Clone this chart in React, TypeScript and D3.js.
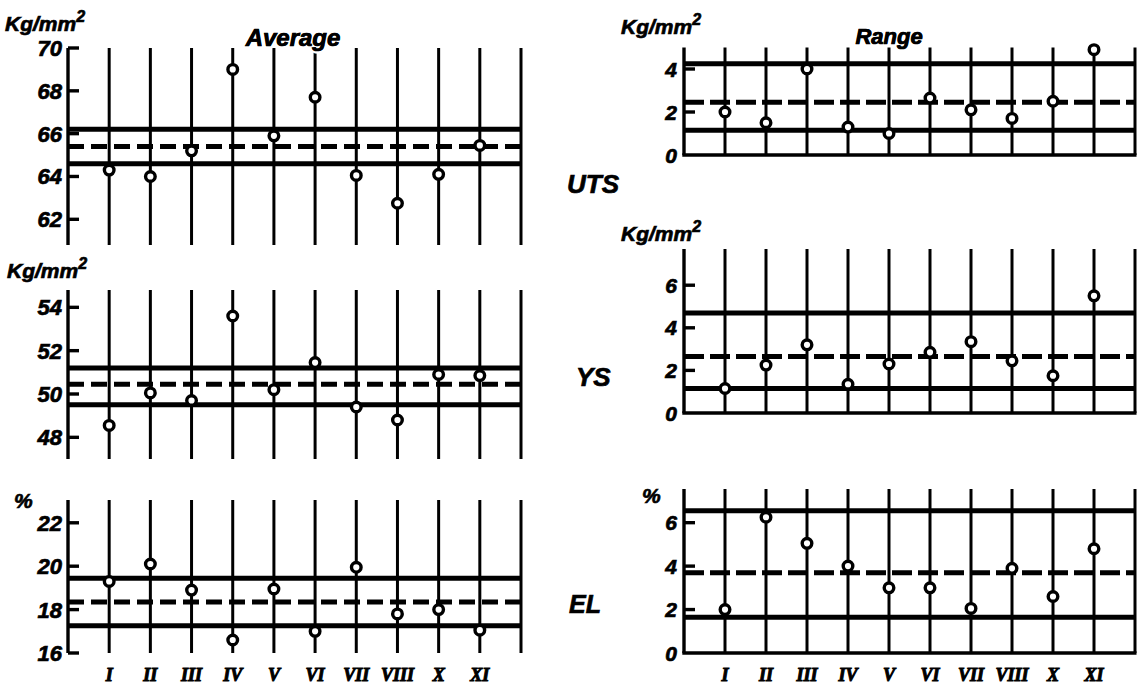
import React from "react";
import * as d3 from "d3";

const categories = ["I", "II", "III", "IV", "V", "VI", "VII", "VIII", "X", "XI"];

// Average panels
const utsAverage = [64.3, 64.0, 65.2, 69.0, 65.9, 67.7, 64.05, 62.75, 64.1, 65.45];
const utsAverageLines = [66.2, 65.4, 64.6]; // upper, centre (dashed), lower
const utsAverageTicks = [62, 64, 66, 68, 70];

const ysAverage = [48.55, 50.05, 49.7, 53.6, 50.2, 51.45, 49.4, 48.8, 50.9, 50.85];
const ysAverageLines = [51.2, 50.45, 49.5];
const ysAverageTicks = [48, 50, 52, 54];

const elAverage = [19.3, 20.1, 18.9, 16.6, 18.95, 17.0, 19.95, 17.8, 18.0, 17.05];
const elAverageLines = [19.45, 18.35, 17.25];
const elAverageTicks = [16, 18, 20, 22];

// Range panels
const utsRange = [2.0, 1.5, 4.0, 1.3, 1.0, 2.65, 2.1, 1.7, 2.5, 4.9];
const utsRangeLines = [4.25, 2.45, 1.15];
const utsRangeTicks = [0, 2, 4];

const ysRange = [1.15, 2.25, 3.2, 1.35, 2.3, 2.85, 3.35, 2.45, 1.75, 5.5];
const ysRangeLines = [4.7, 2.65, 1.15];
const ysRangeTicks = [0, 2, 4, 6];

const elRange = [2.0, 6.25, 5.05, 4.0, 3.0, 3.0, 2.05, 3.9, 2.6, 4.8];
const elRangeLines = [6.55, 3.7, 1.65];
const elRangeTicks = [0, 2, 4, 6];

const SANS = "'Liberation Sans', Arial, sans-serif";
const SERIF = "'Liberation Serif', 'DejaVu Serif', serif";

type PanelProps = {
  xRange: [number, number];
  yDomain: [number, number];
  yRange: [number, number];
  values: number[];
  lines: number[];
  ticks: number[];
  range?: boolean;
  showX?: boolean;
  dash?: string;
};

function Panel({ xRange, yDomain, yRange, values, lines, ticks, range, showX, dash }: PanelProps) {
  const x = d3.scaleLinear().domain([0, categories.length + 1]).range(xRange);
  const y = d3.scaleLinear().domain(yDomain).range(yRange);
  const x0 = xRange[0];
  const x1 = xRange[1];
  const yTop = y(yDomain[1]);
  const yBot = y(yDomain[0]);
  const gridIdx = d3.range(1, categories.length + 2);
  return (
    <g>
      {/* axis */}
      <line x1={x0} x2={x0} y1={yTop} y2={yBot} stroke="#000" strokeWidth={3.4} />
      {range && <line x1={x0 - 1.7} x2={x1 + 1.5} y1={yBot} y2={yBot} stroke="#000" strokeWidth={3.4} />}
      {/* vertical category lines */}
      {gridIdx.map((i) => (
        <line key={"g" + i} x1={x(i)} x2={x(i)} y1={yTop} y2={yBot} stroke="#000" strokeWidth={3} />
      ))}
      {/* ticks */}
      {ticks.map((t) => (
        <g key={"t" + t}>
          {!(range && t === 0) && (
            <line x1={x0} x2={x0 + 11} y1={y(t)} y2={y(t)} stroke="#000" strokeWidth={3.4} />
          )}
          <text
            x={x0 - (range ? 7 : 6)}
            y={y(t)}
            dy="0.36em"
            textAnchor="end"
            fontFamily={SANS}
            fontWeight="bold"
            fontStyle="italic"
            fontSize={range ? 21 : 22}
            fill="#000"
            stroke="#000"
            strokeWidth={0.7}
          >
            {t}
          </text>
        </g>
      ))}
      {/* control lines */}
      <line x1={x0} x2={x1} y1={y(lines[0])} y2={y(lines[0])} stroke="#000" strokeWidth={5} />
      <line
        x1={x0}
        x2={x1}
        y1={y(lines[1])}
        y2={y(lines[1])}
        stroke="#000"
        strokeWidth={5}
        strokeDasharray={dash || "16 7"}
      />
      <line x1={x0} x2={x1} y1={y(lines[2])} y2={y(lines[2])} stroke="#000" strokeWidth={5} />
      {/* points */}
      {values.map((v, i) => (
        <circle key={"p" + i} cx={x(i + 1)} cy={y(v)} r={4.8} fill="#fff" stroke="#000" strokeWidth={3.4} />
      ))}
      {showX &&
        categories.map((c, i) => (
          <text
            key={"x" + c}
            x={x(i + 1)}
            y={681}
            textAnchor="middle"
            fontFamily={SERIF}
            fontWeight="bold"
            fontStyle="italic"
            fontSize={18}
            fill="#000"
            stroke="#000"
            strokeWidth={1}
          >
            {c}
          </text>
        ))}
    </g>
  );
}

const labelStyle = {
  fontFamily: SANS,
  fontWeight: "bold" as const,
  fontStyle: "italic" as const,
  fill: "#000",
  stroke: "#000",
  strokeWidth: 0.7,
};

function Unit({ x, y }: { x: number; y: number }) {
  return (
    <text x={x} y={y} fontSize={21} {...labelStyle}>
      Kg/mm
      <tspan fontSize={16} dy={-9}>
        2
      </tspan>
    </text>
  );
}

export default function App() {
  const L: [number, number] = [68, 521];
  const R: [number, number] = [684, 1135];
  return (
    <svg
      width={1139}
      height={689}
      viewBox="0 0 1139 689"
      style={{ position: "absolute", left: 0, top: 0, background: "#fff" }}
    >
      <rect x={0} y={0} width={1139} height={689} fill="#fff" />
      {/* Left: averages */}
      <Panel xRange={L} yDomain={[60.8, 70]} yRange={[245, 48]} values={utsAverage} lines={utsAverageLines} ticks={utsAverageTicks} />
      <Panel xRange={L} yDomain={[47, 54.8]} yRange={[459, 290]} values={ysAverage} lines={ysAverageLines} ticks={ysAverageTicks} />
      <Panel xRange={L} yDomain={[16, 23.05]} yRange={[653, 500]} values={elAverage} lines={elAverageLines} ticks={elAverageTicks} showX />
      {/* Right: ranges */}
      <Panel xRange={R} yDomain={[0, 5]} yRange={[155, 47.5]} values={utsRange} lines={utsRangeLines} ticks={utsRangeTicks} range dash="20 6" />
      <Panel xRange={R} yDomain={[0, 7.7]} yRange={[413, 249]} values={ysRange} lines={ysRangeLines} ticks={ysRangeTicks} range dash="20 6" />
      <Panel xRange={R} yDomain={[0, 7.55]} yRange={[653, 489]} values={elRange} lines={elRangeLines} ticks={elRangeTicks} range showX dash="20 6" />

      {/* units */}
      <Unit x={5} y={31} />
      <Unit x={7} y={278} />
      <Unit x={621} y={34} />
      <Unit x={621} y={241} />
      <text x={14} y={508} fontSize={21} {...labelStyle}>%</text>
      <text x={642} y={503} fontSize={21} {...labelStyle}>%</text>

      {/* titles */}
      <text x={293} y={46} textAnchor="middle" fontSize={24} {...labelStyle} stroke="#fff" strokeWidth={5} paintOrder="stroke">
        Average
      </text>
      <text x={293} y={46} textAnchor="middle" fontSize={24} {...labelStyle}>
        Average
      </text>
      <text x={889} y={44} textAnchor="middle" fontSize={22} {...labelStyle} stroke="#fff" strokeWidth={5} paintOrder="stroke">
        Range
      </text>
      <text x={889} y={44} textAnchor="middle" fontSize={22} {...labelStyle}>
        Range
      </text>

      {/* property labels */}
      <text x={567} y={193} fontSize={26} {...labelStyle}>UTS</text>
      <text x={576} y={386} fontSize={26} {...labelStyle}>YS</text>
      <text x={569} y={613} fontSize={25} {...labelStyle}>EL</text>
    </svg>
  );
}
